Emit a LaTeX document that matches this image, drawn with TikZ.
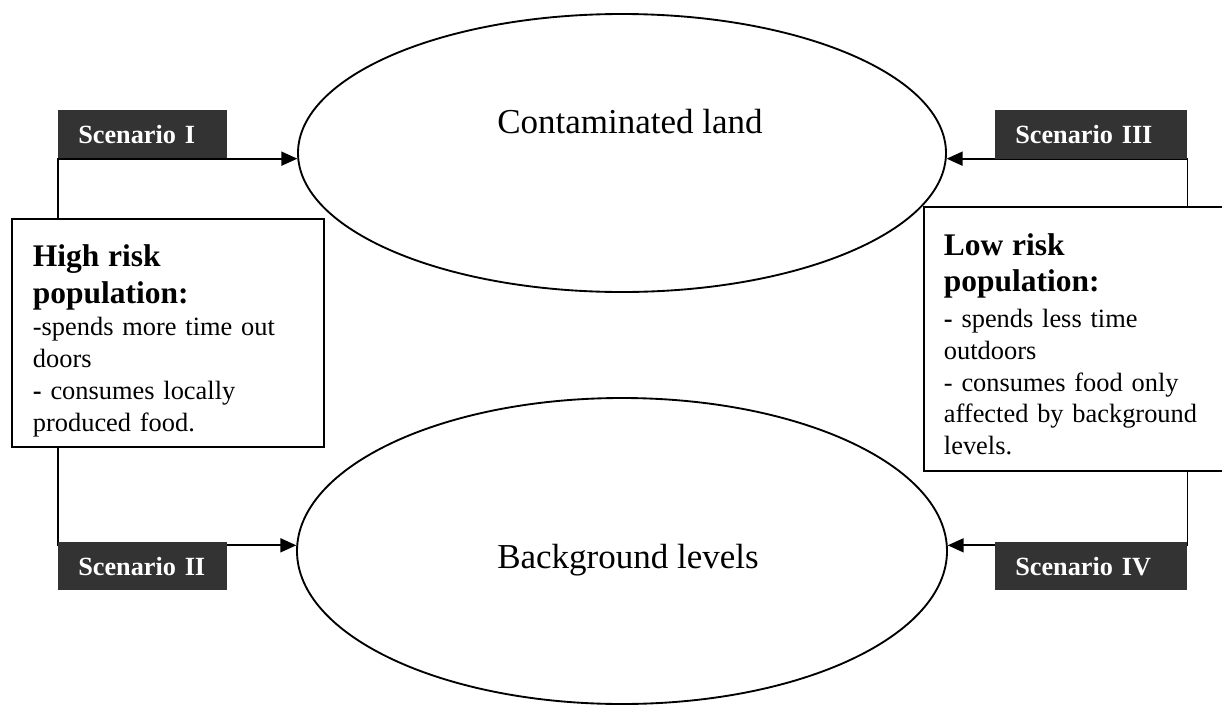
\documentclass[tikz,border=0pt]{standalone}
\usepackage{fontspec}
\setmainfont{Liberation Serif}
\usetikzlibrary{shapes.geometric,arrows.meta,backgrounds}
\definecolor{scenfill}{RGB}{51,51,51}
\newcommand\hdtext[1]{{\fontsize{23.6pt}{28pt}\selectfont\bfseries #1}}
\tikzset{
  lw/.style={line width=1.4pt},
  oval/.style={ellipse, draw, lw, inner sep=0pt},
  bigtext/.style={font=\fontsize{26.25pt}{31pt}\selectfont, anchor=base, inner sep=0pt},
  scenbox/.style={fill=scenfill, text=white, anchor=north west,
    font=\fontsize{19.7pt}{23.6pt}\selectfont\bfseries,
    inner xsep=15pt, inner ysep=0pt, align=left, minimum height=36pt},
  popbox/.style={draw, lw, fill=white, anchor=north west, inner ysep=0pt,
    align=left, font=\fontsize{19.8pt}{23.8pt}\selectfont},
  conn/.style={lw, -{Triangle[length=12pt,width=10.5pt]}},
}
\begin{document}
\begin{tikzpicture}[x=0.75pt,y=-0.75pt]
\useasboundingbox (0,0) rectangle (1222,704);
% ellipses
\node[oval, minimum width=486pt, minimum height=208.5pt] (top) at (622,153) {};
\node[oval, minimum width=487.5pt, minimum height=229.5pt] (bot) at (622,551) {};
\node[bigtext] (toptxt) at (630,133) {Contaminated land};
\node[bigtext] (bottxt) at (628,568) {Background levels};
% scenario labels
\node[scenbox, text width=96.75pt] (s1) at (58,110) {Scenario I};
\node[scenbox, text width=96.75pt] (s2) at (58,542) {Scenario II};
\node[scenbox, text width=114pt, minimum height=36.75pt] (s3) at (995,110) {Scenario III};
\node[scenbox, text width=114pt] (s4) at (995,542) {Scenario IV};
% population boxes
\node[popbox, inner xsep=15.75pt, text width=202.5pt, minimum height=171pt] (hr) at (11,218)
  {\hdtext{\rule{0pt}{28pt}High risk}\\[4.2pt]\hdtext{population:}\\[0.2pt]-spends more time out\\doors\\\textbf{-} consumes locally\\produced food.};
\node[popbox, inner xsep=15pt, text width=197.25pt, minimum height=198pt] (lr) at (923,206)
  {\hdtext{\rule{0pt}{24pt}Low risk}\\[3.2pt]\hdtext{population:}\\[3.6pt]\textbf{-} spends less time\\outdoors\\- consumes food only\\affected by background\\levels.};
% connectors
\begin{scope}[on background layer]
\draw[conn] (hr.north -| s1.south west) |- (top.181);
\draw[conn] (hr.south -| s2.north west) |- (bot.179);
\draw[conn] (lr.north -| s3.south east) |- (top.-1);
\draw[conn] (lr.south -| s4.north east) |- (bot.1);
\end{scope}
\end{tikzpicture}
\end{document}
